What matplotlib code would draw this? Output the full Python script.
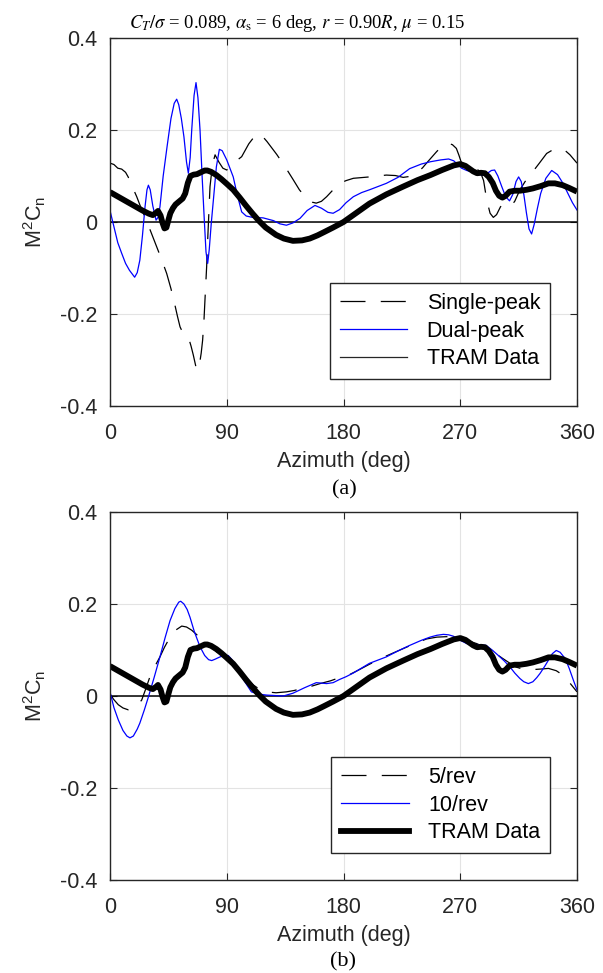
import numpy as np
import matplotlib
matplotlib.use("Agg")
import matplotlib.pyplot as plt
from matplotlib.lines import Line2D

plt.rcParams['font.family'] = ['Liberation Sans', 'DejaVu Sans']
plt.rcParams['axes.unicode_minus'] = False
plt.rcParams['mathtext.fontset'] = 'custom'
plt.rcParams['mathtext.rm'] = 'Liberation Sans'
plt.rcParams['mathtext.it'] = 'Liberation Sans:italic'
plt.rcParams['lines.scale_dashes'] = False

# ---------------- data ----------------
az_tram = [0, 5, 10, 15, 20, 25, 30, 33, 35.5, 37, 39, 40.5, 42, 43.5, 45, 46.5, 48.5, 50.5, 53, 56, 58, 60, 62,
           64.5, 67, 70, 73, 75, 78, 82, 86, 90, 95, 100, 105, 110, 115, 120, 128, 134, 141, 148, 154, 160, 165,
           172, 180, 190, 200, 213, 226, 237, 247, 256, 265, 270, 274, 277, 280, 283, 286, 289, 292, 295, 297.5,
           300, 302.5, 305, 308, 312, 316, 321, 326, 332, 338, 343, 349, 354, 360]
m2cn_tram = [0.065, 0.057, 0.049, 0.041, 0.033, 0.025, 0.018, 0.015, 0.020, 0.024, 0.014, -0.002, -0.014, -0.012,
             0.004, 0.019, 0.030, 0.038, 0.044, 0.051, 0.062, 0.085, 0.100, 0.103, 0.104, 0.108, 0.112, 0.112,
             0.109, 0.102, 0.093, 0.083, 0.070, 0.053, 0.035, 0.018, 0.002, -0.012, -0.028, -0.036, -0.041,
             -0.040, -0.036, -0.029, -0.022, -0.012, 0.000, 0.020, 0.040, 0.060, 0.077, 0.091, 0.102, 0.113,
             0.123, 0.126, 0.122, 0.116, 0.110, 0.106, 0.107, 0.106, 0.098, 0.085, 0.068, 0.057, 0.053, 0.057,
             0.066, 0.068, 0.068, 0.070, 0.073, 0.078, 0.084, 0.084, 0.080, 0.074, 0.066]

az_single = [0, 3, 6, 9, 12, 14, 17, 20.6, 24, 28, 32, 36, 40, 43.7, 47, 50, 52, 54, 56, 58.5, 60.4, 62.5, 64.2,
             66.8, 68.9, 70.3, 71.4, 72.5, 73.2, 74.5, 75.3, 77.1, 79, 81, 84, 87, 90, 92.5, 97, 101.5, 107, 113,
             117, 121, 128.5, 135, 141, 146, 151.6, 156, 159, 163, 167, 172, 177, 182, 187.6, 200, 213, 220, 226,
             231, 236.4, 241, 244, 251.8, 256, 261, 264, 267, 269, 271, 277.5, 282.6, 286, 288, 290.4, 293,
             295.5, 298, 301, 304.5, 307, 309.7, 312, 316, 320, 325, 331, 336.6, 342, 347, 351, 354.6, 360]
m2cn_single = [0.128, 0.125, 0.117, 0.115, 0.108, 0.098, 0.078, 0.055, 0.030, 0.004, -0.025, -0.054, -0.083,
               -0.112, -0.145, -0.180, -0.205, -0.228, -0.240, -0.245, -0.250, -0.270, -0.289, -0.322, -0.311,
               -0.285, -0.257, -0.210, -0.170, -0.097, -0.039, 0.077, 0.125, 0.146, 0.130, 0.117, 0.113, 0.120,
               0.132, 0.142, 0.170, 0.192, 0.188, 0.175, 0.147, 0.120, 0.093, 0.070, 0.051, 0.043, 0.041, 0.045,
               0.055, 0.070, 0.084, 0.090, 0.095, 0.098, 0.102, 0.101, 0.097, 0.099, 0.106, 0.118, 0.128, 0.153,
               0.165, 0.171, 0.168, 0.160, 0.145, 0.128, 0.120, 0.117, 0.105, 0.090, 0.048, 0.019, 0.010, 0.016,
               0.033, 0.042, 0.040, 0.037, 0.045, 0.070, 0.088, 0.106, 0.128, 0.149, 0.158, 0.160, 0.155, 0.146,
               0.128]

az_dual = [0, 3, 6, 9, 12, 15, 19, 21, 23, 25, 27, 28.5, 29.6, 31, 33, 35.5, 37, 38.5, 41, 44, 47, 49.5, 51.4,
           53, 55, 57, 59, 60.4, 61.8, 63, 64.8, 66.3, 67.8, 69.4, 71, 72.7, 74, 75.3, 76.5, 78, 79.7, 82, 84.3,
           86.5, 90, 95, 98, 101.5, 105, 110, 118, 126, 131, 136, 141, 146.5, 152, 158, 163, 168, 172, 177, 182,
           187.6, 194, 200, 213, 222, 231, 240, 247, 255, 261, 265, 268, 271, 275, 280, 285, 288, 291, 294,
           296.5, 299, 302, 305, 308, 310.5, 313, 315, 317, 319, 321, 323, 325, 327, 329.5, 332, 336, 340.5,
           345, 349, 353, 356.5, 360]
m2cn_dual = [0.025, -0.010, -0.045, -0.068, -0.090, -0.105, -0.120, -0.110, -0.083, -0.030, 0.033, 0.070,
             0.080, 0.070, 0.035, 0.004, 0.010, 0.033, 0.100, 0.164, 0.225, 0.258, 0.267, 0.255, 0.225, 0.185,
             0.130, 0.106, 0.140, 0.200, 0.275, 0.303, 0.270, 0.200, 0.100, 0.004, -0.065, -0.090, -0.060,
             -0.005, 0.048, 0.120, 0.158, 0.155, 0.135, 0.098, 0.060, 0.022, 0.013, 0.010, 0.009, 0.003, -0.004,
             -0.007, -0.002, 0.008, 0.025, 0.036, 0.030, 0.021, 0.019, 0.027, 0.042, 0.055, 0.064, 0.070, 0.084,
             0.097, 0.116, 0.126, 0.131, 0.135, 0.137, 0.133, 0.125, 0.117, 0.112, 0.108, 0.103, 0.102, 0.106,
             0.112, 0.113, 0.100, 0.077, 0.055, 0.046, 0.060, 0.088, 0.098, 0.088, 0.060, 0.020, -0.015, -0.026,
             -0.005, 0.030, 0.062, 0.095, 0.112, 0.103, 0.085, 0.062, 0.042, 0.026]

az_5rev = [0, 3, 6.4, 10, 14, 18, 21, 24.4, 27.5, 30.8, 34.5, 38.5, 42, 46.3, 50, 55.3, 59, 63, 67, 72, 77,
           82.2, 90, 95, 100, 105, 110.5, 115, 120.8, 128, 136, 142, 149, 155, 162, 170, 177, 185, 192, 200,
           213, 226, 235, 244, 252, 259.6, 265, 270, 276, 282.6, 289, 295.5, 302, 308.4, 313, 318.6, 324, 329,
           334, 338, 344, 349.4, 354, 360]
m2cn_5rev = [0.004, -0.008, -0.019, -0.026, -0.030, -0.027, -0.020, -0.009, 0.015, 0.042, 0.064, 0.085, 0.106,
             0.128, 0.142, 0.152, 0.150, 0.143, 0.133, 0.121, 0.108, 0.096, 0.085, 0.071, 0.056, 0.040, 0.024,
             0.015, 0.009, 0.007, 0.009, 0.012, 0.017, 0.021, 0.027, 0.033, 0.040, 0.047, 0.057, 0.069, 0.087,
             0.103, 0.114, 0.124, 0.128, 0.129, 0.127, 0.124, 0.120, 0.114, 0.106, 0.096, 0.083, 0.071, 0.063,
             0.058, 0.057, 0.058, 0.059, 0.060, 0.055, 0.045, 0.030, 0.009]

az_10rev = [0, 3, 6.4, 10, 13, 15.4, 18, 21, 23, 26.5, 29.6, 34, 38.5, 42.5, 46.3, 50, 53, 54.5, 57, 59.5, 61.7,
            65, 69.4, 73, 76, 78.4, 81, 84.8, 88, 91.2, 94, 97.7, 103, 109, 115, 120.8, 127, 133.6, 141, 150,
            159, 163, 167, 172, 177, 182, 187.6, 200, 213, 222, 231, 240, 246.7, 252, 257, 261, 264.7, 270, 275,
            282, 290, 295, 300.6, 304, 308.4, 312, 316, 319, 322.5, 326, 329, 331.5, 335, 338, 341, 344, 347,
            351, 354, 357, 360]
m2cn_10rev = [0.009, -0.025, -0.052, -0.075, -0.087, -0.091, -0.087, -0.072, -0.059, -0.030, -0.002, 0.040,
              0.085, 0.127, 0.164, 0.190, 0.204, 0.206, 0.200, 0.188, 0.171, 0.140, 0.107, 0.088, 0.079, 0.077,
              0.080, 0.085, 0.088, 0.088, 0.079, 0.063, 0.035, 0.009, 0.004, 0.002, 0.001, 0.000, 0.006, 0.018,
              0.029, 0.028, 0.027, 0.029, 0.036, 0.042, 0.050, 0.071, 0.085, 0.098, 0.110, 0.121, 0.128, 0.132,
              0.134, 0.133, 0.130, 0.121, 0.114, 0.112, 0.110, 0.099, 0.085, 0.076, 0.063, 0.050, 0.038, 0.031,
              0.027, 0.031, 0.040, 0.049, 0.064, 0.078, 0.092, 0.099, 0.095, 0.081, 0.060, 0.036, 0.013]

x_ticks = [0, 90, 180, 270, 360]
x_ticklabels = ['0', '90', '180', '270', '360']
y_ticks = [-0.4, -0.2, 0, 0.2, 0.4]
y_ticklabels = ['-0.4', '-0.2', '0', '0.2', '0.4']

title_text = r'$C_T/\sigma$ = 0.089, $\alpha_{\rm s}$ = 6 deg, $r$ = 0.90$R$, $\mu$ = 0.15'

# ---------------- figure ----------------
W, H = 603, 973
fig = plt.figure(figsize=(W / 100, H / 100), dpi=100)
fig.patch.set_facecolor('white')

axcol = '#262626'
dash = (18, 11)
FS = 15.5


def px_axes(l, t, r, b):
    return [l / W, 1 - b / H, (r - l) / W, (b - t) / H]


def style(ax):
    ax.set_xlim(0, 360)
    ax.set_ylim(-0.4, 0.4)
    ax.set_xticks(x_ticks)
    ax.set_xticklabels(x_ticklabels)
    ax.set_yticks(y_ticks)
    ax.set_yticklabels(y_ticklabels)
    ax.grid(True, color='#e3e3e3', lw=0.8)
    ax.set_axisbelow(True)
    for s in ax.spines.values():
        s.set_color(axcol)
        s.set_linewidth(1.0)
    ax.tick_params(direction='in', top=True, right=True, length=5, width=0.8,
                   colors=axcol, labelsize=FS)
    ax.tick_params(axis='x', pad=12)
    ax.tick_params(axis='y', pad=9)
    ax.set_xlabel('Azimuth (deg)', fontsize=FS, color=axcol, labelpad=5)
    ax.set_ylabel(r'M$^2$C$_{\rm n}$', fontsize=FS, color=axcol, labelpad=9)
    ax.axhline(0, color='black', lw=1.1, zorder=1.5)


def legend(ax, handles, labels):
    leg = ax.legend(handles, labels, loc='lower right',
                    bbox_to_anchor=(0.942, 0.073), fontsize=FS, handlelength=3.15,
                    handletextpad=0.9, labelspacing=0.32, borderpad=0.45, fancybox=False,
                    framealpha=1, edgecolor=axcol, borderaxespad=0)
    leg.get_frame().set_linewidth(1.0)
    return leg


# top panel
ax1 = fig.add_axes(px_axes(110, 38, 577, 406))
style(ax1)
ax1.plot(az_single, m2cn_single, color='black', lw=0.9, ls=(0, dash))
ax1.plot(az_dual, m2cn_dual, color='#0000ff', lw=0.9)
ax1.plot(az_tram, m2cn_tram, color='black', lw=4.2, solid_capstyle='butt')
legend(ax1, [Line2D([], [], color='black', lw=0.9, ls=(0, dash)),
             Line2D([], [], color='#0000ff', lw=0.9),
             Line2D([], [], color=axcol, lw=0.9)],
       ['Single-peak', 'Dual-peak', 'TRAM Data'])

# bottom panel
ax2 = fig.add_axes(px_axes(110, 512, 577, 880))
style(ax2)
ax2.plot(az_5rev, m2cn_5rev, color='black', lw=0.9, ls=(0, dash))
ax2.plot(az_10rev, m2cn_10rev, color='#0000ff', lw=0.9)
ax2.plot(az_tram, m2cn_tram, color='black', lw=4.2, solid_capstyle='butt')
legend(ax2, [Line2D([], [], color='black', lw=0.9, ls=(0, dash)),
             Line2D([], [], color='#0000ff', lw=0.9),
             Line2D([], [], color='black', lw=4.2)],
       ['5/rev', '10/rev', 'TRAM Data'])

# titles / panel labels
fig.text(297 / W, 1 - 28 / H, title_text, ha='center', va='baseline', fontsize=13.4,
         family='Liberation Serif', math_fontfamily='stix', color='black')
fig.text(344 / W, 1 - 490 / H, '(a)', ha='center', va='center', fontsize=16,
         family='Liberation Serif', color='black')
fig.text(343 / W, 1 - 962 / H, '(b)', ha='center', va='center', fontsize=16,
         family='Liberation Serif', color='black')

fig.savefig('out.png', dpi=100)
